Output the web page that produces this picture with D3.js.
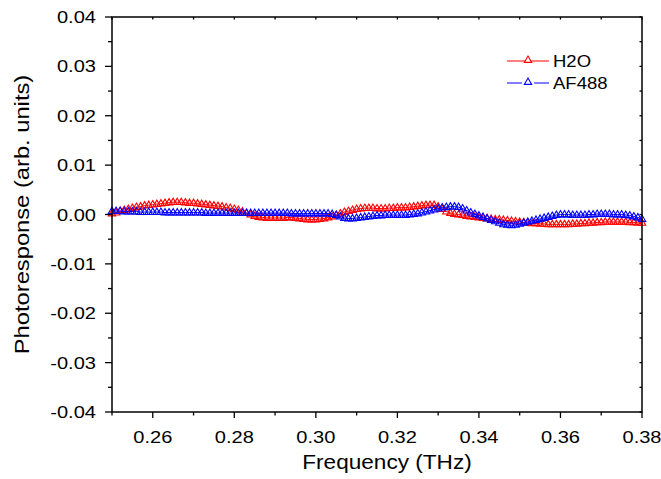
<!DOCTYPE html>
<html>
<head>
<meta charset="utf-8">
<script src="https://cdn.jsdelivr.net/npm/d3@7"></script>
<style>
  body { margin: 0; background: #fff; }
  text { font-family: "Liberation Sans", Arial, sans-serif; fill: #000; }
</style>
</head>
<body>
<svg id="chart" width="661" height="479"></svg>
<script>
// frequency grid (THz)
const freq = [
  0.250, 0.251, 0.252, 0.253, 0.254, 0.255, 0.256, 0.257, 0.258, 0.259,
  0.260, 0.261, 0.262, 0.263, 0.264, 0.265, 0.266, 0.267, 0.268, 0.269,
  0.270, 0.271, 0.272, 0.273, 0.274, 0.275, 0.276, 0.277, 0.278, 0.279,
  0.280, 0.281, 0.282, 0.283, 0.284, 0.285, 0.286, 0.287, 0.288, 0.289,
  0.290, 0.291, 0.292, 0.293, 0.294, 0.295, 0.296, 0.297, 0.298, 0.299,
  0.300, 0.301, 0.302, 0.303, 0.304, 0.305, 0.306, 0.307, 0.308, 0.309,
  0.310, 0.311, 0.312, 0.313, 0.314, 0.315, 0.316, 0.317, 0.318, 0.319,
  0.320, 0.321, 0.322, 0.323, 0.324, 0.325, 0.326, 0.327, 0.328, 0.329,
  0.330, 0.331, 0.332, 0.333, 0.334, 0.335, 0.336, 0.337, 0.338, 0.339,
  0.340, 0.341, 0.342, 0.343, 0.344, 0.345, 0.346, 0.347, 0.348, 0.349,
  0.350, 0.351, 0.352, 0.353, 0.354, 0.355, 0.356, 0.357, 0.358, 0.359,
  0.360, 0.361, 0.362, 0.363, 0.364, 0.365, 0.366, 0.367, 0.368, 0.369,
  0.370, 0.371, 0.372, 0.373, 0.374, 0.375, 0.376, 0.377, 0.378, 0.379,
  0.380
];

// photoresponse, units of 1e-4
const h2o = [
  2, 4, 7, 9, 11, 13, 15, 16, 18, 19,
  20, 21, 22, 23, 24, 25, 25, 25, 24, 23,
  23, 22, 21, 20, 19, 18, 17, 16, 14, 13,
  11, 9, 6, 3, 0, -3, -5, -6, -7, -7,
  -7, -7, -7, -6, -6, -7, -8, -9, -10, -10,
  -10, -9, -8, -6, -4, -1, 2, 5, 7, 9,
  11, 12, 13, 13, 13, 12, 12, 12, 13, 13,
  14, 14, 14, 15, 16, 17, 18, 19, 19, 19,
  16, 11, 6, 3, 1, 0, -1, -3, -4, -5,
  -6, -7, -8, -9, -10, -10, -11, -12, -13, -14,
  -15, -16, -17, -18, -18, -19, -19, -20, -20, -20,
  -20, -20, -20, -19, -19, -18, -18, -17, -17, -16,
  -16, -15, -15, -15, -15, -15, -15, -16, -16, -17,
  -17
];
const af488 = [
  7, 7, 7, 6, 6, 6, 6, 5, 5, 5,
  5, 5, 5, 4, 4, 4, 4, 4, 4, 4,
  4, 4, 4, 3, 3, 3, 3, 3, 3, 3,
  3, 3, 3, 3, 3, 3, 3, 3, 3, 3,
  3, 3, 3, 3, 2, 2, 2, 2, 2, 2,
  2, 2, 2, 2, 1, -1, -4, -7, -8, -8,
  -7, -6, -5, -4, -3, -2, -2, -1, -1, -1,
  -1, -1, -1, 0, 1, 2, 4, 6, 8, 10,
  12, 14, 15, 16, 16, 15, 12, 8, 4, 1,
  -2, -5, -8, -11, -14, -17, -20, -21, -22, -21,
  -19, -17, -15, -13, -11, -9, -7, -5, -3, -1,
  0, 0, 0, -1, -1, -1, -1, 0, 0, 1,
  1, 1, 1, 0, 0, 0, -1, -2, -4, -6,
  -9
];

const seriesNames = ["H2O", "AF488"];
const seriesColors = ["#ff0000", "#0000ff"];

const xMajor = [0.26, 0.28, 0.30, 0.32, 0.34, 0.36, 0.38];
const xMinor = [0.25, 0.27, 0.29, 0.31, 0.33, 0.35, 0.37];
const yMajor = [-0.04, -0.03, -0.02, -0.01, 0, 0.01, 0.02, 0.03, 0.04];
const yMinor = [-0.035, -0.025, -0.015, -0.005, 0.005, 0.015, 0.025, 0.035];

const svg = d3.select("#chart");
const margin = { left: 112, right: 19, top: 17, bottom: 67 };
const width = 661, height = 479;

const x = d3.scaleLinear().domain([0.25, 0.38]).range([margin.left, width - margin.right]);
const y = d3.scaleLinear().domain([-0.04, 0.04]).range([height - margin.bottom, margin.top]);

const tri = "M0,-4L3.7,2.4L-3.7,2.4Z";

// series: line first, then open triangles
[h2o, af488].forEach((vals, si) => {
  const pts = freq.map((f, i) => ({ f: f, v: vals[i] * 1e-4 }));
  svg.append("path")
    .datum(pts)
    .attr("fill", "none")
    .attr("stroke", seriesColors[si])
    .attr("stroke-width", 1)
    .attr("d", d3.line().x(d => x(d.f)).y(d => y(d.v)));
  svg.append("g")
    .selectAll("path")
    .data(pts)
    .enter()
    .append("path")
    .attr("d", tri)
    .attr("transform", d => `translate(${x(d.f)},${y(d.v)})`)
    .attr("fill", "none")
    .attr("stroke", seriesColors[si])
    .attr("stroke-width", 1.1);
});

// frame and axes
const x0 = x.range()[0], x1 = x.range()[1];
const yb = y.range()[0], yt = y.range()[1];

svg.append("rect")
  .attr("x", x0).attr("y", yt)
  .attr("width", x1 - x0).attr("height", yb - yt)
  .attr("fill", "none").attr("stroke", "#000").attr("stroke-width", 1.5);

const ax = svg.append("g").attr("stroke", "#000").attr("stroke-width", 1.3);

// bottom ticks outward, top ticks inward
xMajor.concat(xMinor).forEach(t => {
  const major = xMajor.includes(t);
  ax.append("line").attr("x1", x(t)).attr("x2", x(t)).attr("y1", yb).attr("y2", yb + (major ? 6 : 3.5));
  ax.append("line").attr("x1", x(t)).attr("x2", x(t)).attr("y1", yt).attr("y2", yt + 2.5);
});
// left ticks outward, right ticks inward
yMajor.concat(yMinor).forEach(t => {
  const major = yMajor.includes(t);
  ax.append("line").attr("x1", x0).attr("x2", x0 - (major ? 7 : 4)).attr("y1", y(t)).attr("y2", y(t));
  ax.append("line").attr("x1", x1).attr("x2", x1 - 2.5).attr("y1", y(t)).attr("y2", y(t));
});

// tick labels (glyphs are a bit wide in the original, hence the x stretch)
svg.append("g").selectAll("text")
  .data(xMajor).enter().append("text")
  .attr("transform", d => `translate(${x(d)},443) scale(1.18,1)`)
  .attr("text-anchor", "middle")
  .attr("font-size", 17)
  .text(d => d.toFixed(2));

svg.append("g").selectAll("text")
  .data(yMajor).enter().append("text")
  .attr("transform", d => `translate(96,${y(d) + 6}) scale(1.18,1)`)
  .attr("text-anchor", "end")
  .attr("font-size", 17)
  .text(d => d.toFixed(2));

svg.append("text")
  .attr("transform", `translate(${(x0 + x1) / 2 + 10},469) scale(1.13,1)`)
  .attr("text-anchor", "middle")
  .attr("font-size", 20)
  .text("Frequency (THz)");

svg.append("text")
  .attr("transform", `translate(29,${(yb + yt) / 2}) rotate(-90) scale(1.13,1)`)
  .attr("text-anchor", "middle")
  .attr("font-size", 21)
  .text("Photoresponse (arb. units)");

// legend
const legend = svg.append("g");
seriesNames.forEach((name, i) => {
  const ly = 61 + i * 22;
  const c = seriesColors[i];
  if (i === 0) {
    legend.append("line").attr("x1", 507).attr("x2", 549).attr("y1", ly).attr("y2", ly)
      .attr("stroke", c).attr("stroke-width", 1);
  } else {
    legend.append("line").attr("x1", 507).attr("x2", 522).attr("y1", ly).attr("y2", ly)
      .attr("stroke", c).attr("stroke-width", 1);
    legend.append("line").attr("x1", 534).attr("x2", 549).attr("y1", ly).attr("y2", ly)
      .attr("stroke", c).attr("stroke-width", 1);
  }
  legend.append("path").attr("d", tri)
    .attr("transform", `translate(528,${ly - 1})`)
    .attr("fill", i === 0 ? "#fff" : "none").attr("stroke", c).attr("stroke-width", 1.1);
  legend.append("text")
    .attr("transform", `translate(553,${ly + 6}) scale(1.09,1)`)
    .attr("font-size", 17).text(name);
});
</script>
</body>
</html>
